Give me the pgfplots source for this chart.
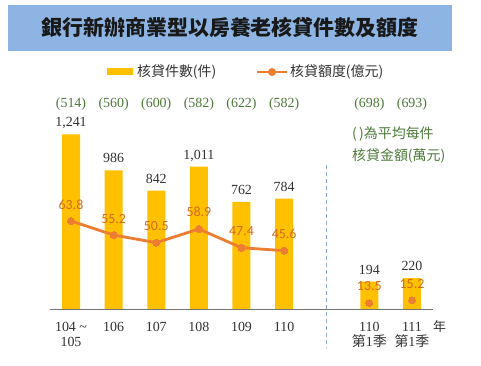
\documentclass[border=0pt]{standalone}
\usepackage{fontspec}
\setmainfont{Liberation Serif}
\newfontfamily\cjk{Noto Sans CJK TC}
\newfontfamily\calib{Carlito}
\usepackage{pgfplots}
\usepackage{pgfplotstable}
\pgfplotsset{compat=1.18}
\definecolor{barc}{HTML}{FFC000}
\definecolor{lnc}{HTML}{ED7D31}
\definecolor{lnlab}{HTML}{D2691E}
\definecolor{grn}{HTML}{4E7A3A}
\definecolor{ttl}{HTML}{8DB4E2}
\definecolor{txt}{HTML}{333333}
\definecolor{dsh}{HTML}{8EA9C1}
\pgfplotstableread{
x cnt
0 1241
1 986
2 842
3 1011
4 762
5 784
7 194
8 220
}\cnttab
\pgfplotstableread{
x amt
0 63.8
1 55.2
2 50.5
3 58.9
4 47.4
5 45.6
}\amttab
\pgfplotstableread{
x amt
7 13.5
8 15.2
}\amtq
\tikzset{avg/.style={font=\fontsize{14}{15}\selectfont, text=grn}}
\begin{document}
\begin{tikzpicture}
\path[use as bounding box, fill=white] (0bp,0bp) rectangle (481bp,366bp);
% title banner
\fill[ttl] (8bp,315bp) rectangle (452bp,361bp);
\node[font=\cjk\bfseries\fontsize{21}{24}\selectfont, text=black!90] at (230bp,338bp) {銀行新辦商業型以房養老核貸件數及額度};
% legend
\fill[barc] (107bp,291bp) rectangle (133bp,298bp);
\node[anchor=west, inner sep=0pt, font=\cjk\fontsize{14}{16}\selectfont, text=txt] at (137bp,294bp) {核貸件數(件)};
\draw[lnc, line width=2.8bp] (257bp,294bp) -- (287bp,294bp);
\fill[lnc] (272bp,294bp) circle (4bp);
\node[anchor=west, inner sep=0pt, font=\cjk\fontsize{14}{16}\selectfont, text=txt] at (290bp,294bp) {核貸額度(億元)};
% note
\node[anchor=west, inner sep=0pt, font=\cjk\fontsize{14}{16}\selectfont, text=grn] at (352bp,232bp) {(\,)為平均每件};
\node[anchor=west, inner sep=0pt, font=\cjk\fontsize{14}{16}\selectfont, text=grn] at (352bp,210bp) {核貸金額(萬元)};
\begin{axis}[
  at={(49.7bp,57bp)}, anchor=south west, scale only axis,
  width=383.6bp, height=197bp,
  xmin=-0.5, xmax=8.5, ymin=0, ymax=1400,
  axis y line=none, axis x line*=bottom,
  x axis line style={draw=black!55, line width=0.8bp, -},
  xtick={0,1,2,3,4,5,7,8},
  xticklabels={{104 \textasciitilde\\105},106,107,108,109,110,{110\\{\cjk 第}1{\cjk 季}},{111\\{\cjk 第}1{\cjk 季}}},
  major tick length=0pt,
  xticklabel style={anchor=north, inner sep=0pt, yshift=-13.4bp, align=center, font=\fontsize{14}{15}\selectfont, text=txt},
  clip=false,
  ybar, bar width=18bp,
  nodes near coords,
  /pgf/number format/assume math mode=true,
  /pgf/number format/1000 sep={,},
  every node near coord/.append style={anchor=base, inner sep=0pt, yshift=7.4bp, font=\fontsize{14}{15}\selectfont, text=txt},
]
\addplot[fill=barc, draw=none] table[x=x, y=cnt] {\cnttab};
\draw[dsh, dashed, dash pattern=on 4bp off 3bp, line width=0.8bp] (axis cs:6,1023) -- (axis cs:6,-277);
\node[font=\cjk\fontsize{13}{15}\selectfont, text=txt] at (axis cs:8.65,-127) {年};
\node[avg] at (axis cs:0,1457) {(514)};
\node[avg] at (axis cs:1,1457) {(560)};
\node[avg] at (axis cs:2,1457) {(600)};
\node[avg] at (axis cs:3,1457) {(582)};
\node[avg] at (axis cs:4,1457) {(622)};
\node[avg] at (axis cs:5,1457) {(582)};
\node[avg] at (axis cs:7,1457) {(698)};
\node[avg] at (axis cs:8,1457) {(693)};
\end{axis}
\begin{axis}[
  at={(49.7bp,57bp)}, anchor=south west, scale only axis,
  width=383.6bp, height=197bp,
  xmin=-0.5, xmax=8.5, ymin=9.8, ymax=130.7,
  axis lines=none, clip=false,
  nodes near coords,
  /pgf/number format/assume math mode=true,
  /pgf/number format/fixed, /pgf/number format/precision=1, /pgf/number format/fixed zerofill,
  every node near coord/.append style={anchor=base, inner sep=0pt, yshift=12bp, font=\calib\fontsize{14}{15}\selectfont, text=lnlab},
]
\addplot[lnc, line width=2.8bp, mark=*, mark size=3.6bp, mark options={fill=lnc, draw=lnc, line width=0pt}] table[x=x, y=amt] {\amttab};
\addplot[only marks, lnc, mark=*, mark size=3.4bp, mark options={fill=lnc, draw=lnc, line width=0pt}] table[x=x, y=amt] {\amtq};
\end{axis}
\end{tikzpicture}
\end{document}
